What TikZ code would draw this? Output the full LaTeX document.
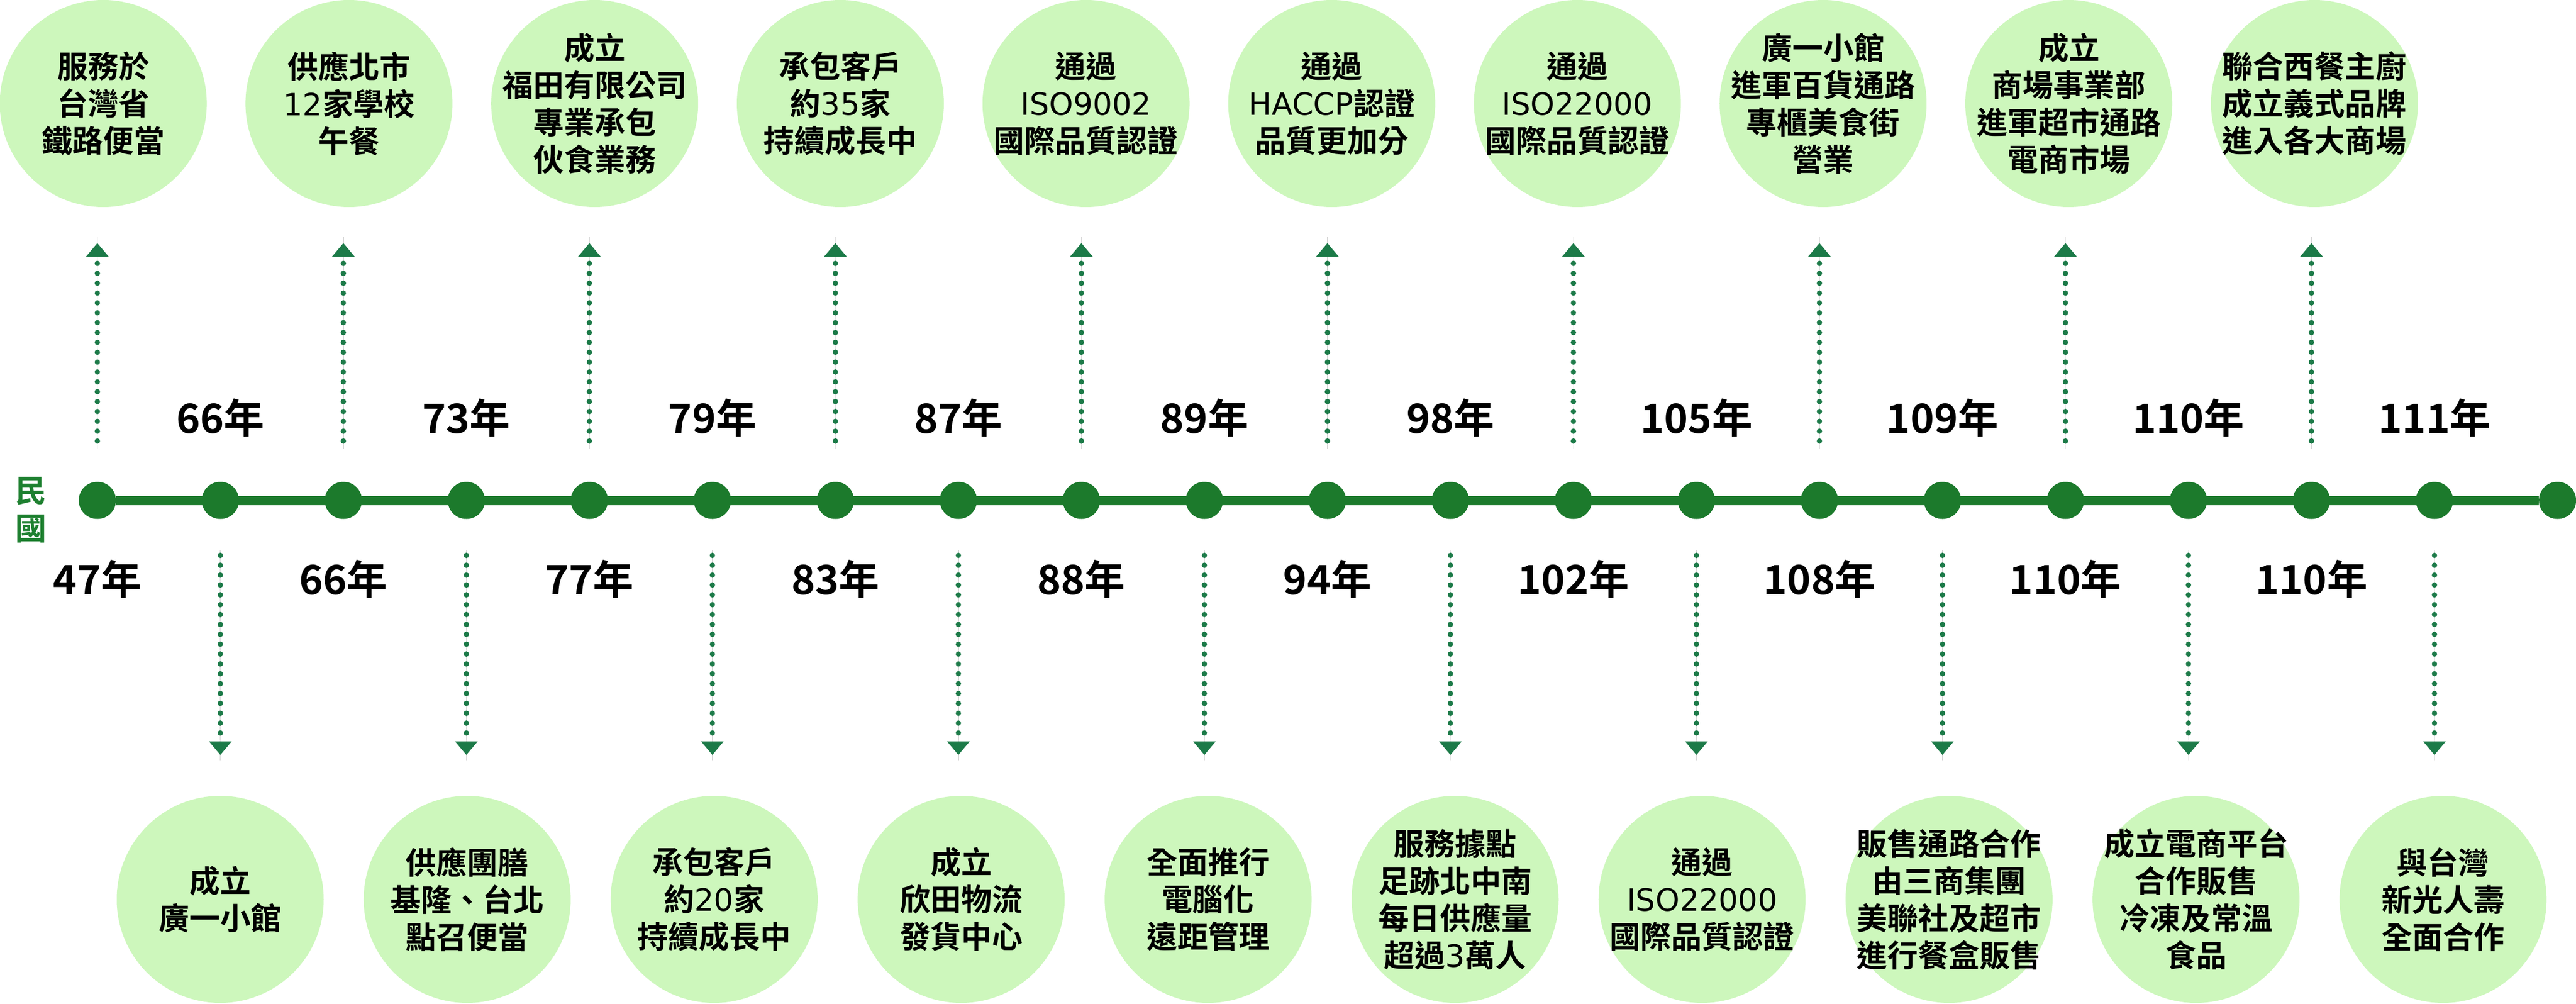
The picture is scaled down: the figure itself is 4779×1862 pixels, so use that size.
\documentclass[tikz,border=0pt]{standalone}
\usepackage{fontspec}
\setmainfont{Noto Sans CJK TC}[BoldFont={Noto Sans CJK TC Bold}]
\newfontfamily\latfont{DejaVu Sans}
\usetikzlibrary{arrows.meta}
\definecolor{bubble}{RGB}{205,247,188}
\definecolor{lineg}{RGB}{28,122,44}
\definecolor{arrowg}{RGB}{28,122,72}
\definecolor{hair}{RGB}{205,205,205}
\definecolor{erag}{RGB}{30,128,48}
\newcommand{\lt}[1]{{\latfont\mdseries #1}}
\begin{document}
\begin{tikzpicture}[x=1pt,y=-1pt,
  dot/.style={circle,fill=lineg,inner sep=0pt,minimum size=69pt},
  bubblenode/.style={circle,fill=bubble,inner sep=0pt,minimum size=384pt},
  evtext/.style={align=center,inner sep=0pt,font=\bfseries\fontsize{57}{69}\selectfont},
  year/.style={inner sep=0pt,font=\bfseries\fontsize{75}{80}\selectfont},
  hairline/.style={draw=hair,line width=1pt},
  dotline/.style={draw=arrowg,line width=10pt,line cap=round,dash pattern=on 0pt off 18.3pt,
    -{Triangle[width=42pt,length=25pt,line width=0pt]}}]
\useasboundingbox (0,0) rectangle (4779,1862);
% Time line
\foreach \i in {0,...,20} \node[dot] (d\i) at ({180.6+228.2*\i},928) {};
\draw[lineg,line width=17pt] (d0) -- (d20);
\node[align=center,inner sep=0pt,text=erag,font=\bfseries\fontsize{58}{70}\selectfont] (era) at (57,946) {民\\國};
% Arrows up and down
\foreach \i in {0,2,...,18} {
  \draw[hairline] ([yshift=96pt]d\i.center) -- ([yshift=489pt]d\i.center);
  \draw[dotline] ([yshift=110pt]d\i.center) -- ([yshift=477pt]d\i.center);
}
\foreach \i in {1,3,...,19} {
  \draw[hairline] ([yshift=-92pt]d\i.center) -- ([yshift=-482pt]d\i.center);
  \draw[dotline] ([yshift=-102pt]d\i.center) -- ([yshift=-472pt]d\i.center);
}
% Years
\foreach \i/\yr in {1/66,3/73,5/79,7/87,9/89,11/98,13/105,15/109,17/110,19/111}
  \node[year] (ytop\i) at ([yshift=153pt]d\i.center) {{\yr}年};
\foreach \i/\yr in {0/47,2/66,4/77,6/83,8/88,10/94,12/102,14/108,16/110,18/110}
  \node[year] (ybot\i) at ([yshift=-146pt]d\i.center) {{\yr}年};
% Events above
\node[bubblenode,label={[evtext]center:服務於\\台灣省\\鐵路便當}] (up0) at (191.6,192) {};
\node[bubblenode,label={[evtext]center:供應北市\\\lt{12}家學校\\午餐}] (up1) at (647.4,192) {};
\node[bubblenode,label={[evtext]center:成立\\福田有限公司\\專業承包\\伙食業務}] (up2) at (1103.2,192) {};
\node[bubblenode,label={[evtext]center:承包客戶\\約\lt{35}家\\持續成長中}] (up3) at (1559.0,192) {};
\node[bubblenode,label={[evtext]center:通過\\\lt{ISO9002}\\國際品質認證}] (up4) at (2014.8,192) {};
\node[bubblenode,label={[evtext]center:通過\\\lt{HACCP}認證\\品質更加分}] (up5) at (2470.6,192) {};
\node[bubblenode,label={[evtext]center:通過\\\lt{ISO22000}\\國際品質認證}] (up6) at (2926.4,192) {};
\node[bubblenode,label={[evtext]center:廣一小館\\進軍百貨通路\\專櫃美食街\\營業}] (up7) at (3382.2,192) {};
\node[bubblenode,label={[evtext]center:成立\\商場事業部\\進軍超市通路\\電商市場}] (up8) at (3838.0,192) {};
\node[bubblenode,label={[evtext]center:聯合西餐主廚\\成立義式品牌\\進入各大商場}] (up9) at (4293.8,192) {};
% Events below
\node[bubblenode,label={[evtext]center:成立\\廣一小館}] (dn0) at (408.5,1668) {};
\node[bubblenode,label={[evtext]center:供應團膳\\基隆、台北\\點召便當}] (dn1) at (866.7,1668) {};
\node[bubblenode,label={[evtext]center:承包客戶\\約\lt{20}家\\持續成長中}] (dn2) at (1324.9,1668) {};
\node[bubblenode,label={[evtext]center:成立\\欣田物流\\發貨中心}] (dn3) at (1783.1,1668) {};
\node[bubblenode,label={[evtext]center:全面推行\\電腦化\\遠距管理}] (dn4) at (2241.3,1668) {};
\node[bubblenode,label={[evtext]center:服務據點\\足跡北中南\\每日供應量\\超過\lt{3}萬人}] (dn5) at (2699.5,1668) {};
\node[bubblenode,label={[evtext]center:通過\\\lt{ISO22000}\\國際品質認證}] (dn6) at (3157.7,1668) {};
\node[bubblenode,label={[evtext]center:販售通路合作\\由三商集團\\美聯社及超市\\進行餐盒販售}] (dn7) at (3615.9,1668) {};
\node[bubblenode,label={[evtext]center:成立電商平台\\合作販售\\冷凍及常溫\\食品}] (dn8) at (4074.1,1668) {};
\node[bubblenode,label={[evtext]center:與台灣\\新光人壽\\全面合作}] (dn9) at (4532.3,1668) {};
\end{tikzpicture}
\end{document}
